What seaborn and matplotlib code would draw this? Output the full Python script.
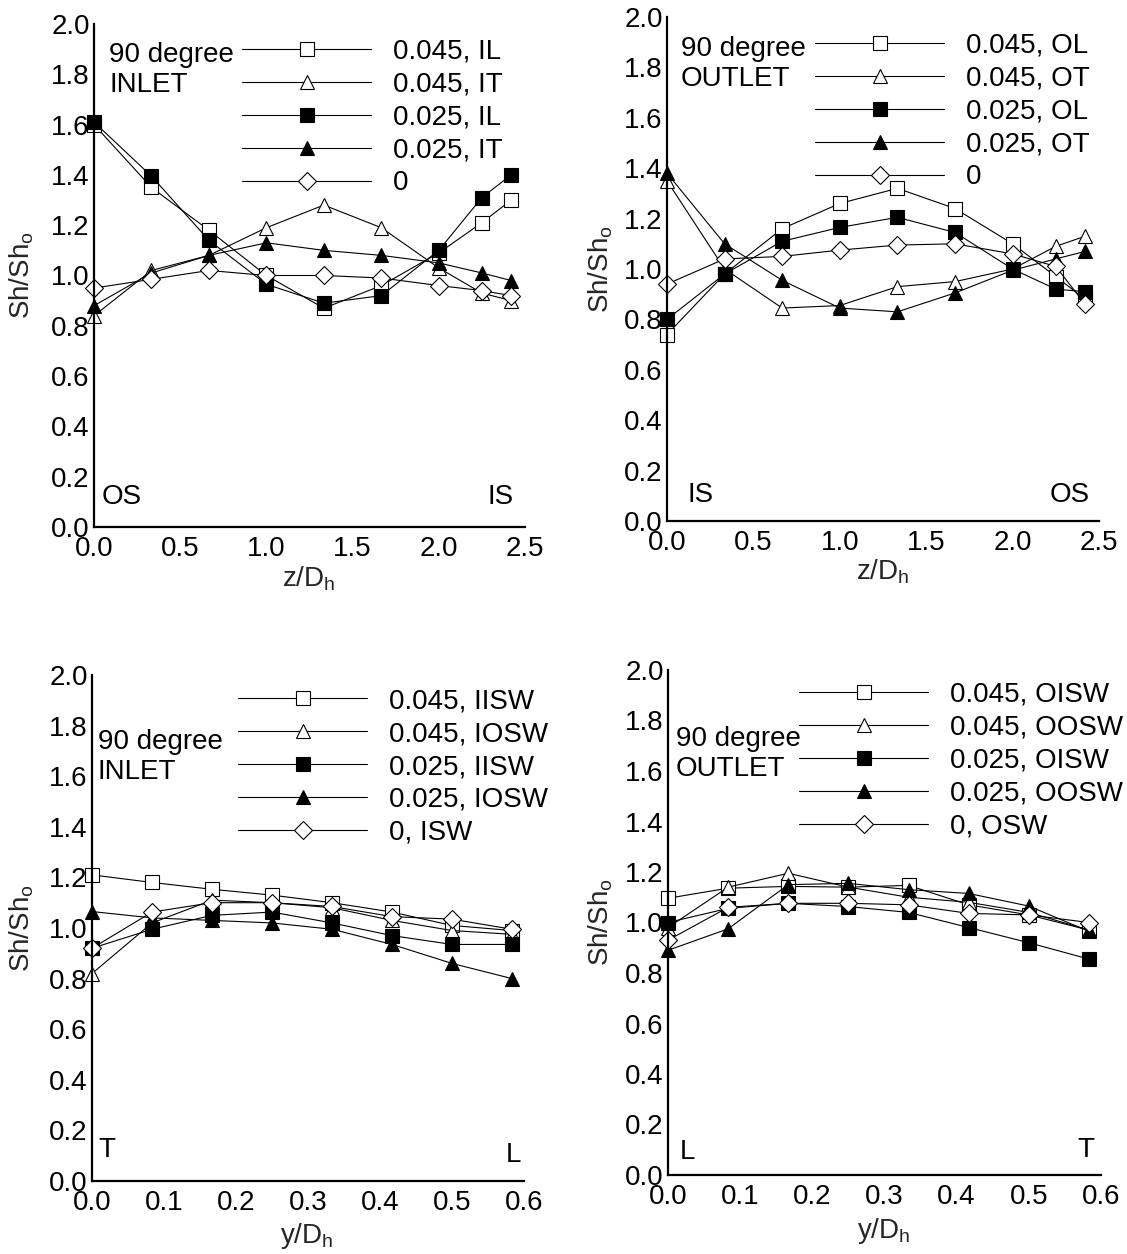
import matplotlib
matplotlib.use("Agg")
import matplotlib.pyplot as plt
import seaborn as sns
from matplotlib.ticker import FormatStrFormatter, MultipleLocator

# ---------------- data ----------------
z_pos = [0.0, 1/3, 2/3, 1.0, 4/3, 5/3, 2.0, 2.25, 2.42]
y_pos = [0.0, 1/12, 2/12, 3/12, 4/12, 5/12, 6/12, 7/12]

# top-left: 90 degree INLET, vs z/Dh
inlet_z_labels = ["0.045, IL", "0.045, IT", "0.025, IL", "0.025, IT", "0"]
inlet_il_045 = [1.60, 1.35, 1.18, 1.00, 0.87, 0.96, 1.09, 1.21, 1.30]
inlet_it_045 = [0.84, 1.02, 1.08, 1.19, 1.28, 1.19, 1.03, 0.93, 0.90]
inlet_il_025 = [1.61, 1.395, 1.14, 0.965, 0.89, 0.92, 1.10, 1.31, 1.40]
inlet_it_025 = [0.88, 1.01, 1.08, 1.13, 1.10, 1.08, 1.05, 1.01, 0.98]
inlet_z_0 = [0.95, 0.985, 1.02, 1.00, 1.00, 0.99, 0.96, 0.94, 0.92]

# top-right: 90 degree OUTLET, vs z/Dh
outlet_z_labels = ["0.045, OL", "0.045, OT", "0.025, OL", "0.025, OT", "0"]
outlet_ol_045 = [0.74, 0.98, 1.16, 1.26, 1.32, 1.24, 1.10, 0.97, 0.88]
outlet_ot_045 = [1.35, 1.00, 0.845, 0.855, 0.93, 0.95, 1.00, 1.09, 1.13]
outlet_ol_025 = [0.80, 0.98, 1.11, 1.165, 1.205, 1.145, 1.00, 0.92, 0.91]
outlet_ot_025 = [1.38, 1.10, 0.955, 0.845, 0.83, 0.905, 0.995, 1.04, 1.07]
outlet_z_0 = [0.94, 1.04, 1.05, 1.075, 1.095, 1.10, 1.06, 1.01, 0.86]

# bottom-left: 90 degree INLET, vs y/Dh
inlet_y_labels = ["0.045, IISW", "0.045, IOSW", "0.025, IISW", "0.025, IOSW", "0, ISW"]
inlet_iisw_045 = [1.21, 1.18, 1.153, 1.13, 1.10, 1.063, 1.01, 0.99]
inlet_iosw_045 = [0.82, 1.02, 1.11, 1.10, 1.08, 1.03, 0.99, 0.975]
inlet_iisw_025 = [0.92, 0.995, 1.05, 1.063, 1.02, 0.97, 0.935, 0.935]
inlet_iosw_025 = [1.065, 1.04, 1.03, 1.02, 0.995, 0.935, 0.86, 0.80]
inlet_isw_0 = [0.92, 1.063, 1.10, 1.10, 1.085, 1.045, 1.035, 0.995]

# bottom-right: 90 degree OUTLET, vs y/Dh
outlet_y_labels = ["0.045, OISW", "0.045, OOSW", "0.025, OISW", "0.025, OOSW", "0, OSW"]
outlet_oisw_045 = [1.096, 1.136, 1.143, 1.14, 1.147, 1.07, 1.03, 0.97]
outlet_oosw_045 = [0.98, 1.14, 1.195, 1.14, 1.10, 1.08, 1.04, 0.97]
outlet_oisw_025 = [1.00, 1.056, 1.076, 1.063, 1.04, 0.98, 0.92, 0.855]
outlet_oosw_025 = [0.89, 0.975, 1.15, 1.155, 1.13, 1.115, 1.065, 0.965]
outlet_osw_0 = [0.93, 1.06, 1.076, 1.076, 1.07, 1.036, 1.03, 1.00]

# ---------------- style ----------------
sns.set_theme(style="white")
FAM, FS = "Liberation Sans", 20
plt.rcParams["font.family"] = [FAM, "DejaVu Sans"]
plt.rcParams["mathtext.fontset"] = "custom"
plt.rcParams["mathtext.rm"] = FAM
FS_PX = FS * 100 / 72.0

W, H = 1127, 1254
fig = plt.figure(figsize=(W / 100, H / 100), dpi=100)


def fx(px):
    return px / W


def fy(py):
    return 1 - py / H


marker_styles = [
    dict(marker="s", markersize=10.0, markerfacecolor="white"),
    dict(marker="^", markersize=10.5, markerfacecolor="white"),
    dict(marker="s", markersize=10.0, markerfacecolor="black"),
    dict(marker="^", markersize=10.5, markerfacecolor="black"),
    dict(marker="D", markersize=8.8, markerfacecolor="white"),
]

panels = [
    dict(rect=(94, 525, 24, 527), x=z_pos, xmax=2.5, xstep=0.5, xlabel="z/D$_\\mathregular{h}$",
         series=[inlet_il_045, inlet_it_045, inlet_il_025, inlet_it_025, inlet_z_0],
         labels=inlet_z_labels, leg=(242, 117.5), title=("90 degree\nINLET", 109, 70.5),
         corners=(("OS", 102, 497), ("IS", 514, 497)), xl=(309, 579), yl=(22, 275)),
    dict(rect=(667, 1099, 17, 521), x=z_pos, xmax=2.5, xstep=0.5, xlabel="z/D$_\\mathregular{h}$",
         series=[outlet_ol_045, outlet_ot_045, outlet_ol_025, outlet_ot_025, outlet_z_0],
         labels=outlet_z_labels, leg=(815, 111.5), title=("90 degree\nOUTLET", 681, 64),
         corners=(("IS", 687, 495), ("OS", 1090, 495)), xl=(883, 572), yl=(601, 269)),
    dict(rect=(92, 524, 675, 1181), x=y_pos, xmax=0.6, xstep=0.1, xlabel="y/D$_\\mathregular{h}$",
         series=[inlet_iisw_045, inlet_iosw_045, inlet_iisw_025, inlet_iosw_025, inlet_isw_0],
         labels=inlet_y_labels, leg=(238, 767), title=("90 degree\nINLET", 98, 757),
         corners=(("T", 98, 1150), ("L", 521, 1155)), xl=(307, 1236), yl=(22, 928)),
    dict(rect=(668, 1101, 670, 1175), x=y_pos, xmax=0.6, xstep=0.1, xlabel="y/D$_\\mathregular{h}$",
         series=[outlet_oisw_045, outlet_oosw_045, outlet_oisw_025, outlet_oosw_025, outlet_osw_0],
         labels=outlet_y_labels, leg=(799, 760.5), title=("90 degree\nOUTLET", 676, 754),
         corners=(("L", 680, 1152), ("T", 1094, 1150)), xl=(884, 1231), yl=(601, 922)),
]

for p in panels:
    x0, x1, top, bot = p["rect"]
    ax = fig.add_axes([fx(x0), fy(bot), (x1 - x0) / W, (bot - top) / H])
    for vals, lab, st in zip(p["series"], p["labels"], marker_styles):
        sns.lineplot(x=p["x"], y=vals, ax=ax, color="black", linewidth=0.8,
                     markeredgecolor="black", markeredgewidth=0.8, label=lab,
                     sort=False, estimator=None, clip_on=False, **st)
    ax.set_xlim(0, p["xmax"])
    ax.set_ylim(0, 2.0)
    ax.xaxis.set_major_locator(MultipleLocator(p["xstep"]))
    ax.yaxis.set_major_locator(MultipleLocator(0.2))
    ax.xaxis.set_major_formatter(FormatStrFormatter("%.1f"))
    ax.yaxis.set_major_formatter(FormatStrFormatter("%.1f"))
    for s in ("top", "right"):
        ax.spines[s].set_visible(False)
    for s in ("left", "bottom"):
        ax.spines[s].set_linewidth(1.6)
        ax.spines[s].set_color("black")
    ax.tick_params(direction="in", length=9.5, width=1.5, colors="black",
                   labelsize=FS, pad=3)
    ax.tick_params(axis="x", pad=6.5)
    ax.set_facecolor("none")

    ax.set_xlabel(p["xlabel"], fontsize=FS)
    ax.set_ylabel("Sh/Sh$_\\mathregular{o}$", fontsize=FS)
    ax.xaxis.label.set(va="center", ha="center")
    ax.yaxis.label.set(va="center", ha="center", rotation_mode="default")
    ax.xaxis.set_label_coords(fx(p["xl"][0]), fy(p["xl"][1]), transform=fig.transFigure)
    ax.yaxis.set_label_coords(fx(p["yl"][0]), fy(p["yl"][1]), transform=fig.transFigure)

    leg = ax.legend(loc="center left", bbox_to_anchor=(fx(p["leg"][0]), fy(p["leg"][1])),
                    bbox_transform=fig.transFigure, frameon=False, fontsize=FS,
                    borderpad=0, borderaxespad=0, handlelength=129 / FS_PX,
                    handletextpad=22 / FS_PX, labelspacing=0.25, numpoints=1)
    for t in leg.get_texts():
        t.set_color("black")

    txt, tx, ty = p["title"]
    fig.text(fx(tx), fy(ty), txt, fontsize=FS, ha="left", va="center", linespacing=1.2,
             color="black")
    (c1, c1x, c1y), (c2, c2x, c2y) = p["corners"]
    fig.text(fx(c1x), fy(c1y), c1, fontsize=FS, ha="left", va="center", color="black")
    fig.text(fx(c2x), fy(c2y), c2, fontsize=FS, ha="right", va="center", color="black")

fig.savefig("out.png", dpi=100, facecolor="white")
